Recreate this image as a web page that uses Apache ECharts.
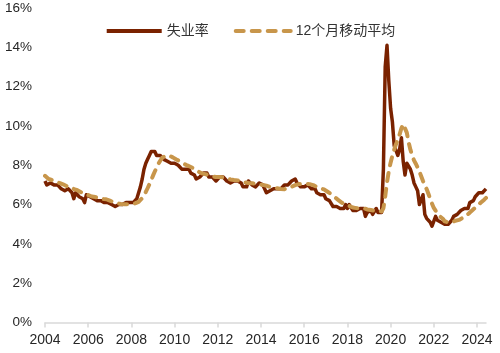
<!DOCTYPE html>
<html>
<head>
<meta charset="utf-8">
<script src="https://cdn.jsdelivr.net/npm/echarts@6/dist/echarts.min.js"></script>
<style>
html,body{margin:0;padding:0;background:#fff;}
#chart{width:500px;height:353px;}
</style>
</head>
<body>
<div id="chart"></div>
<script>
// Monthly categories: 2004-07 .. 2024-12
const startYear = 2004, startMonth = 7, monthCount = 246;
const months = [];
for (let i = 0; i < monthCount; i++) {
  const m = startMonth - 1 + i;
  const y = startYear + Math.floor(m / 12);
  const mm = (m % 12) + 1;
  months.push(y + '-' + (mm < 10 ? '0' + mm : mm));
}

const seriesNames = ['失业率', '12个月移动平均'];

// Unemployment rate (%), monthly from 2004-07
const unemploymentRate = [
  7.2, 7.0, 6.9, 7.1, 7.2, 7.0,
  7.0, 7.0, 6.9, 6.8, 6.9, 6.7, 6.8, 6.8, 6.7, 6.6, 6.3, 6.6,
  6.6, 6.4, 6.4, 6.3, 6.1, 6.5, 6.4, 6.4, 6.3, 6.3, 6.3, 6.2,
  6.3, 6.2, 6.1, 6.1, 6.1, 6.1, 6.0, 6.0, 5.9, 5.9, 6.0, 6.0,
  6.0, 6.0, 6.1, 6.1, 6.1, 6.1, 6.1, 6.1, 6.2, 6.3, 6.6, 6.9,
  7.3, 7.8, 8.1, 8.3, 8.5, 8.7, 8.8, 8.7, 8.5, 8.6, 8.5, 8.6,
  8.3, 8.3, 8.2, 8.2, 8.1, 8.0, 8.1, 8.1, 8.0, 8.0, 7.8, 7.8,
  7.8, 7.8, 7.8, 7.6, 7.5, 7.5, 7.3, 7.4, 7.4, 7.4, 7.6, 7.5,
  7.6, 7.4, 7.3, 7.4, 7.3, 7.2, 7.3, 7.4, 7.3, 7.4, 7.3, 7.2,
  7.1, 7.1, 7.2, 7.2, 7.1, 7.2, 7.2, 7.1, 6.9, 7.0, 6.9, 7.2,
  7.1, 7.0, 6.9, 6.9, 7.0, 7.1, 7.0, 7.0, 6.8, 6.6, 6.7, 6.7,
  6.7, 6.8, 6.8, 6.8, 6.8, 6.8, 6.8, 7.0, 7.1, 7.0, 7.1, 7.2,
  7.2, 7.3, 7.1, 7.1, 6.9, 6.8, 6.9, 7.0, 7.0, 6.9, 6.8, 6.9,
  6.8, 6.6, 6.7, 6.5, 6.6, 6.5, 6.3, 6.2, 6.2, 6.3, 5.9, 5.8,
  5.9, 5.8, 5.8, 5.8, 5.8, 6.0, 5.8, 6.0, 5.9, 5.7, 5.6, 5.7,
  5.8, 5.8, 5.9, 5.8, 5.4, 5.6, 5.7, 5.7, 5.5, 5.6, 5.8, 5.6,
  5.6, 5.6, 7.8, 13.0, 14.1, 12.3, 10.9, 10.2, 9.0, 8.9, 8.5, 8.8,
  9.4, 8.2, 7.5, 8.1, 8.2, 7.8, 7.5, 7.1, 6.9, 6.7, 6.0, 5.9,
  6.5, 5.5, 5.3, 5.2, 5.1, 4.9, 4.9, 5.4, 5.2, 5.2, 5.1, 5.0,
  5.0, 5.1, 5.0, 5.1, 5.2, 5.4, 5.5, 5.5, 5.5, 5.7, 5.8, 5.8,
  5.7, 5.8, 6.1, 6.1, 6.2, 6.4, 6.4, 6.6, 6.5, 6.6, 6.6, 6.8
];

// 12-month moving average (%), monthly from 2004-07
const movingAvg12 = [
  7.46, 7.38, 7.30, 7.26, 7.24, 7.21,
  7.18, 7.14, 7.10, 7.06, 7.03, 6.98, 6.94, 6.93, 6.91, 6.87, 6.79, 6.76,
  6.73, 6.68, 6.63, 6.59, 6.53, 6.51, 6.48, 6.44, 6.41, 6.38, 6.38, 6.35,
  6.33, 6.31, 6.28, 6.27, 6.27, 6.23, 6.20, 6.17, 6.13, 6.10, 6.08, 6.06,
  6.03, 6.02, 6.02, 6.02, 6.02, 6.02, 6.03, 6.03, 6.06, 6.09, 6.14, 6.22,
  6.33, 6.48, 6.64, 6.83, 7.03, 7.24, 7.47, 7.68, 7.88, 8.07, 8.23, 8.37,
  8.45, 8.49, 8.50, 8.49, 8.46, 8.40, 8.34, 8.29, 8.25, 8.20, 8.14, 8.08,
  8.03, 7.99, 7.96, 7.91, 7.86, 7.82, 7.75, 7.69, 7.64, 7.59, 7.58, 7.55,
  7.53, 7.50, 7.46, 7.44, 7.43, 7.40, 7.40, 7.40, 7.39, 7.39, 7.37, 7.34,
  7.30, 7.28, 7.27, 7.25, 7.23, 7.23, 7.23, 7.20, 7.17, 7.13, 7.10, 7.10,
  7.10, 7.09, 7.07, 7.04, 7.03, 7.03, 7.01, 7.00, 6.99, 6.96, 6.94, 6.90,
  6.87, 6.85, 6.84, 6.83, 6.82, 6.79, 6.78, 6.78, 6.80, 6.83, 6.87, 6.91,
  6.95, 6.99, 7.02, 7.04, 7.05, 7.05, 7.06, 7.06, 7.05, 7.04, 7.02, 6.99,
  6.96, 6.90, 6.87, 6.82, 6.79, 6.77, 6.72, 6.65, 6.58, 6.53, 6.46, 6.37,
  6.29, 6.23, 6.15, 6.09, 6.03, 5.98, 5.94, 5.93, 5.90, 5.85, 5.83, 5.82,
  5.81, 5.81, 5.82, 5.82, 5.78, 5.75, 5.74, 5.72, 5.68, 5.68, 5.69, 5.68,
  5.67, 5.65, 5.81, 6.41, 7.13, 7.69, 8.13, 8.50, 8.79, 9.07, 9.29, 9.56,
  9.88, 10.09, 10.07, 9.66, 9.17, 8.79, 8.51, 8.25, 8.08, 7.89, 7.68, 7.44,
  7.20, 6.98, 6.79, 6.55, 6.29, 6.05, 5.83, 5.69, 5.55, 5.43, 5.35, 5.28,
  5.15, 5.12, 5.09, 5.08, 5.09, 5.13, 5.18, 5.19, 5.22, 5.26, 5.32, 5.38,
  5.44, 5.50, 5.59, 5.68, 5.76, 5.84, 5.92, 6.01, 6.09, 6.17, 6.25, 6.34
];

const yMin = 0, yMax = 16, yStep = 2;

const FONT = "'Liberation Sans', Arial, 'Noto Sans CJK SC', sans-serif";
const chart = echarts.init(document.getElementById('chart'), null, {renderer: 'canvas'});
chart.setOption({
  animation: false,
  backgroundColor: '#ffffff',
  grid: {left: 45, right: 14, top: 8, bottom: 30.5, containLabel: false},
  legend: {
    data: seriesNames,
    top: 19,
    left: 'center',
    itemWidth: 55,
    itemHeight: 14,
    itemGap: 25,
    itemStyle: {opacity: 0},
    lineStyle: {width: 4},
    textStyle: {fontSize: 14, color: '#333', fontFamily: FONT}
  },
  xAxis: {
    type: 'category',
    data: months,
    boundaryGap: false,
    axisLine: {show: true, lineStyle: {color: '#d9d9d9', width: 1.5}},
    axisTick: {show: true, length: 5, interval: 23, lineStyle: {color: '#d9d9d9', width: 1.5}},
    axisLabel: {
      interval: 23,
      margin: 11,
      fontSize: 14,
      color: '#262626',
      fontFamily: FONT,
      formatter: v => v.slice(0, 4)
    },
    splitLine: {show: false}
  },
  yAxis: {
    type: 'value',
    min: yMin, max: yMax, interval: yStep,
    axisLine: {show: false},
    axisTick: {show: false},
    splitLine: {show: false},
    axisLabel: {
      formatter: '{value}%',
      fontSize: 13.5,
      color: '#262626',
      margin: 13,
      fontFamily: FONT
    }
  },
  series: [
    {
      name: seriesNames[0],
      type: 'line',
      data: unemploymentRate,
      symbol: 'none',
      lineStyle: {color: '#7A2200', width: 3.5, join: 'round'},
      itemStyle: {color: '#7A2200'}
    },
    {
      name: seriesNames[1],
      type: 'line',
      data: movingAvg12,
      symbol: 'none',
      lineStyle: {color: '#C8964B', width: 4, type: [8, 8], cap: 'round', join: 'round'},
      itemStyle: {color: '#C8964B'}
    }
  ]
});
</script>
</body>
</html>
